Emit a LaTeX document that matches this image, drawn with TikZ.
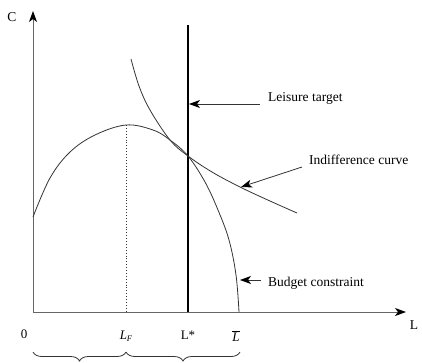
\documentclass[tikz,border=0pt]{standalone}
\usepackage{fontspec}
\setmainfont{Liberation Serif}
\usetikzlibrary{arrows.meta,decorations.pathreplacing}
\tikzset{
  axis/.style={draw=black!60, line width=0.9pt, -{Stealth[length=11pt,width=8pt,inset=3pt,color=black]}},
  curve/.style={draw=black!80, line width=0.8pt},
  pointer/.style={draw=black!80, line width=0.8pt, -{Stealth[length=11pt,width=8pt,inset=3pt,color=black]}},
  lbl/.style={font=\fontsize{13.5}{15}\selectfont, inner sep=0pt},
  tick/.style={font=\fontsize{13}{15}\selectfont, inner sep=0pt},
  brc/.style={draw=black!80, line width=0.8pt, decorate, decoration={brace, mirror, amplitude=9pt}}
}
\begin{document}
\begin{tikzpicture}[x=1pt,y=-1pt]
\useasboundingbox (0,0) rectangle (422,362);
\clip (0,0) rectangle (422,362);
% axes
\coordinate (O) at (33,312);
\coordinate (ytop) at (33,11);
\coordinate (xend) at (406,312);
\draw[axis] (O) -- (ytop);
\draw[axis] (O) -- (xend);
\node[lbl] (C) at (12,17) {C};
\node[lbl] (Lax) at (414,325) {L};
% dotted line at L_F
\coordinate (peak) at (126,125);
\coordinate (LFb) at (126,312);
\draw[black!80, line width=0.9pt, dotted] (peak) -- (LFb);
% leisure target line
\coordinate (Lt) at (188,25);
\coordinate (Lb) at (188,312);
\draw[black, line width=1.4pt] (Lt) -- (Lb);
% budget constraint
\draw[curve] plot[smooth, tension=0.6] coordinates {(33,217) (50,178) (70,152) (95,135) (126,125) (153,130) (170,140) (188,156) (205,182) (218,210) (229,240) (236,275) (239,312)};
% indifference curve
\draw[curve] plot[smooth, tension=0.6] coordinates {(131,59) (139,86) (150,110) (170,140) (188,156) (212,172) (240,187) (270,201) (297,213)};
% pointers
\node[lbl, anchor=west] (lt) at (268,98) {Leisure target};
\coordinate (ltf) at (260,104);
\coordinate (ltt) at (189,104);
\draw[pointer] (ltf) -- (ltt);
\node[lbl, anchor=west] (ic) at (309,160) {Indifference curve};
\coordinate (icf) at (302,167);
\coordinate (ict) at (241,187);
\draw[pointer] (icf) -- (ict);
\node[lbl, anchor=west] (bc) at (268,283) {Budget constraint};
\coordinate (bcf) at (261,280);
\coordinate (bct) at (240,280);
\draw[pointer] (bcf) -- (bct);
% ticks
\node[tick] (zero) at (24,334) {0};
\node[tick] (LF) at (126,336) {\textit{L}\raisebox{-0.35ex}{\fontsize{8.5}{9}\selectfont\textit{F}}};
\node[tick] (Lstar) at (188,335) {L*};
\node[tick] (Lbar) at (236,336) {$\overline{\mbox{\textit{L}}}$};
% braces
\coordinate (b1) at (33,352);
\coordinate (b2) at (126,352);
\coordinate (b3) at (240,352);
\draw[brc] (b1) -- (b2);
\draw[brc] (b2) -- (b3);
\end{tikzpicture}
\end{document}
